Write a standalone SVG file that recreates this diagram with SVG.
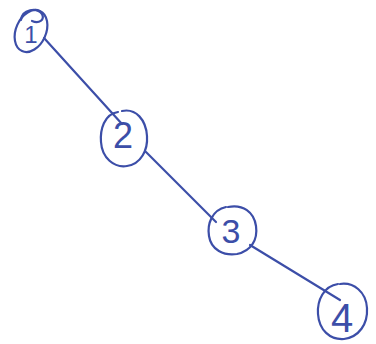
<svg xmlns="http://www.w3.org/2000/svg" width="376" height="344" viewBox="0 0 376 344">
  <style>
    .ink { fill: none; stroke: #3c4ea8; stroke-width: 2.2; stroke-linecap: round; stroke-linejoin: round; }
    .digit { fill: #3c4ea8; font-family: "Liberation Sans", "DejaVu Sans", sans-serif; text-anchor: middle; }
  </style>
  <rect width="376" height="344" fill="#ffffff"/>

  <!-- tree edges -->
  <g id="connectors">
    <path class="ink" d="M44,38 L122,124"/>
    <path class="ink" d="M146,152 L216,222"/>
    <path class="ink" d="M250,245 L340,300"/>
  </g>

  <!-- node 1 -->
  <g id="node-1">
    <ellipse class="ink" cx="31" cy="31" rx="15" ry="22" transform="rotate(24 31 31)"/>
    <path class="ink" d="M21,20 C22,9 37,7 42,14 C45,20 39,24 32,21"/>
    <text class="digit" x="31" y="43" font-size="24">1</text>
  </g>

  <!-- node 2 -->
  <g id="node-2">
    <path class="ink" d="M118,112 C104,114 100,130 101,142 C102,158 114,168 127,166 C141,164 148,150 147,136 C146,120 136,108 122,111"/>
    <text class="digit" x="123" y="148" font-size="36">2</text>
  </g>

  <!-- node 3 -->
  <g id="node-3">
    <path class="ink" d="M226,207 C212,210 207,224 209,236 C211,250 224,256 237,254 C251,251 258,240 256,226 C254,212 243,204 228,207"/>
    <text class="digit" x="231" y="243" font-size="34">3</text>
  </g>

  <!-- node 4 -->
  <g id="node-4">
    <path class="ink" d="M338,284 C324,286 317,300 318,314 C319,330 330,340 344,339 C359,337 368,324 367,308 C366,292 354,282 340,284"/>
    <text class="digit" x="342" y="332" font-size="40">4</text>
  </g>
</svg>
